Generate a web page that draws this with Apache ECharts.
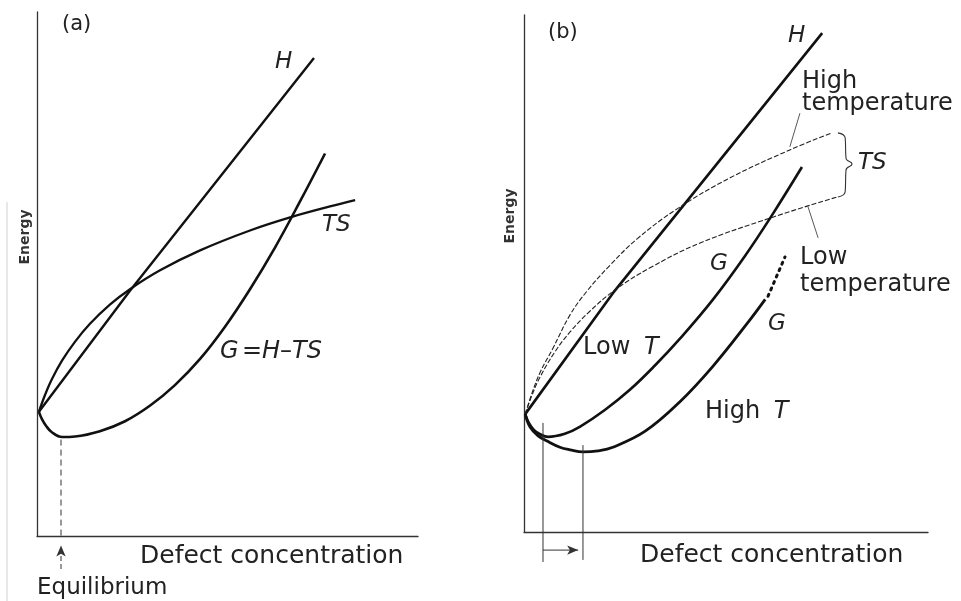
<!DOCTYPE html>
<html>
<head>
<meta charset="utf-8">
<script src="https://cdn.jsdelivr.net/npm/echarts@6/dist/echarts.min.js"></script>
<style>html,body{margin:0;padding:0;background:#fff}#c{width:961px;height:601px}</style>
</head>
<body>
<div id="c"></div>
<script>
// ---------- Panel (a) data (defect concentration, energy), arbitrary units 0-100 ----------
const H_a  = [[0.5,23.7],[24.4,46.8],[72.7,91.2]];
const TS_a = [[0.5,23.7],[2.1,26.9],[3.9,29.9],[6.6,33.5],[10.0,37.1],[13.9,40.5],[19.2,44.2],[24.4,47.1],[32.3,50.7],[42.8,54.5],[55.9,58.3],[66.9,60.9],[76.9,62.9],[83.5,64.1]];
const G_a  = [[0.5,23.7],[1.3,22.3],[2.4,21.0],[3.9,19.8],[6.6,18.9],[10.0,19.0],[16.5,20.0],[23.1,21.9],[29.7,24.9],[36.2,28.8],[42.8,33.8],[49.3,39.9],[55.9,47.1],[62.5,55.1],[69.0,63.8],[75.6,73.0]];
const EQ_a = 6.3;          // equilibrium concentration
const EQ_G_a = 18.4;       // G at equilibrium

// ---------- Panel (b) data ----------
const H_b      = [[0.3,22.8],[22.0,46.2],[73.8,96.5]];
const TS_hi_b  = [[0.3,22.8],[2.0,26.9],[4.0,30.9],[7.2,35.6],[11.4,42.0],[15.6,46.6],[21.3,51.6],[28.0,56.7],[37.9,62.5],[51.0,68.5],[65.8,73.9],[76.2,77.2]];
const TS_lo_b  = [[0.3,22.8],[2.0,26.5],[4.0,30.0],[7.7,34.9],[11.4,38.7],[16.3,42.7],[22.5,46.8],[31.2,51.1],[43.6,55.9],[61.6,60.9],[77.5,64.8]];
const G_lo_b   = [[0.3,22.8],[1.2,21.1],[2.5,19.7],[4.0,18.9],[5.9,18.4],[10.1,19.0],[13.9,20.4],[20.0,23.6],[26.2,27.5],[32.4,32.2],[38.6,37.4],[46.8,45.0],[54.7,53.4],[61.4,61.3],[68.8,70.6]];
const G_hi_b   = [[0.3,22.8],[1.5,20.3],[3.5,18.6],[5.7,17.6],[8.9,16.4],[11.4,15.9],[14.6,15.5],[18.3,15.7],[22.0,16.4],[30.0,19.5],[38.6,25.2],[46.8,32.1],[55.2,40.3],[59.7,45.0]];
const G_dots_b = [[60.4,45.6],[64.6,53.2]];
const EQ_lo_b = 4.7, EQ_hi_b = 14.6;
const BRACE_b = [[77.7,77.2],[79.5,76.2],[79.7,72.3],[81.2,71.2],[79.7,70.0],[79.5,65.8],[77.7,64.8]];
const LEAD_hi_b = [[68.3,81.0],[65.8,74.5]];
const LEAD_lo_b = [[70.3,62.9],[72.8,56.9]];

const chart = echarts.init(document.getElementById('c'), null, {renderer:'canvas'});
const INK = '#111', AX = '#333';
function axisX(i){return {gridIndex:i,type:'value',min:0,max:100,axisLine:{show:true,onZero:false,lineStyle:{color:AX,width:1.3}},axisTick:{show:false},axisLabel:{show:false},splitLine:{show:false}};}
function axisY(i){return {gridIndex:i,type:'value',min:0,max:100,axisLine:{show:true,onZero:false,lineStyle:{color:AX,width:1.3}},axisTick:{show:false},axisLabel:{show:false},splitLine:{show:false}};}
function curve(data,i,w,extra){return Object.assign({type:'line',xAxisIndex:i,yAxisIndex:i,data:data,showSymbol:false,symbol:'none',smooth:0.4,clip:false,silent:true,lineStyle:{color:INK,width:w}},extra||{});}
function arrow(i,p1,p2,rot,dash){return {type:'line',xAxisIndex:i,yAxisIndex:i,clip:false,silent:true,smooth:0,
  symbol:'arrow',showSymbol:true,showAllSymbol:true,symbolSize:[7,11],
  itemStyle:{color:AX},lineStyle:{color:AX,width:1,type:dash||'solid'},
  data:[{value:p1,symbol:'none'},{value:p2,symbol:'arrow',symbolRotate:rot}]};}

const txt = (t,x,y,size,opt)=>({type:'text',x:x,y:y,silent:true,style:Object.assign({text:t,fill:'#222',font:(size)+'px "DejaVu Sans"',textVerticalAlign:'middle',textAlign:'left'},opt||{})});
const ital = s=>'italic '+s+'px "DejaVu Sans"';
const norm = s=>s+'px "DejaVu Sans"';

chart.setOption({
  animation:false,
  backgroundColor:'#fff',
  grid:[{left:37,top:12,width:381,height:524},{left:524,top:15,width:404,height:517}],
  xAxis:[axisX(0),axisX(1)],
  yAxis:[axisY(0),axisY(1)],
  series:[
    curve(H_a,0,2.4,{smooth:0}),
    curve(TS_a,0,2.3),
    curve(G_a,0,2.6),
    curve([[EQ_a,EQ_G_a],[EQ_a,0]],0,1,{smooth:0,lineStyle:{color:AX,width:1,type:[6,4]}}),
    arrow(0,[EQ_a,-6.3],[EQ_a,-1.8],0,[5,3]),
    curve(H_b,1,2.6,{smooth:0}),
    curve(TS_hi_b,1,1.1,{lineStyle:{color:'#222',width:1.1,type:[5,2]}}),
    curve(TS_lo_b,1,1.1,{lineStyle:{color:'#222',width:1.1,type:[5,2]}}),
    curve(G_lo_b,1,2.6),
    curve(G_hi_b,1,2.8),
    curve(G_dots_b,1,3,{smooth:0,lineStyle:{color:INK,width:3,type:[2,5],cap:'round'}}),
    curve([[EQ_lo_b,21.1],[EQ_lo_b,-5.8]],1,1,{smooth:0,lineStyle:{color:AX,width:1}}),
    curve([[EQ_hi_b,16.8],[EQ_hi_b,-5.4]],1,1,{smooth:0,lineStyle:{color:AX,width:1}}),
    arrow(1,[EQ_lo_b,-3.5],[13.4,-3.5],-90),
    curve(BRACE_b,1,1.1,{smooth:0.5,lineStyle:{color:'#333',width:1.1}}),
    curve(LEAD_hi_b,1,1,{smooth:0,lineStyle:{color:'#444',width:0.9}}),
    curve(LEAD_lo_b,1,1,{smooth:0,lineStyle:{color:'#444',width:0.9}})
  ],
  graphic:[
    {type:'line',shape:{x1:7,y1:202,x2:7,y2:601},style:{stroke:'#d0d0d0',lineWidth:1},silent:true},
    // panel a
    txt('(a)',62,25,21),
    txt('H',275,62,23,{font:ital(23)}),
    txt('TS',322,225,23,{font:ital(23)}),
    {type:'text',x:220,y:352,silent:true,style:{text:'{i|G} {n|=}{i|H}{n|–}{i|TS}',textVerticalAlign:'middle',fill:'#222',
      rich:{i:{font:ital(24),fill:'#222'},n:{font:norm(24),fill:'#222'}}}},
    txt('Defect concentration',140,556,25),
    txt('Equilibrium',37,588,23),
    {type:'text',x:25,y:237,rotation:Math.PI/2,silent:true,style:{text:'Energy',fill:'#333',font:'bold 14px "DejaVu Sans"',textAlign:'center',textVerticalAlign:'middle'}},
    // panel b
    txt('(b)',548,33,21),
    txt('H',788,36,23,{font:ital(23)}),
    txt('High',802,82,24),
    txt('temperature',802,104,24),
    txt('TS',858,163,23,{font:ital(23)}),
    txt('Low',800,258,24),
    txt('temperature',800,285,24),
    txt('G',710,264,23,{font:ital(23)}),
    {type:'text',x:583,y:348,silent:true,style:{text:'{n|Low }{i|T}',textVerticalAlign:'middle',rich:{i:{font:ital(24),fill:'#222',padding:[0,0,0,6]},n:{font:norm(24),fill:'#222'}}}},
    txt('G',768,324,23,{font:ital(23)}),
    {type:'text',x:705,y:412,silent:true,style:{text:'{n|High }{i|T}',textVerticalAlign:'middle',rich:{i:{font:ital(24),fill:'#222',padding:[0,0,0,6]},n:{font:norm(24),fill:'#222'}}}},
    txt('Defect concentration',640,555,25),
    {type:'text',x:510,y:216,rotation:Math.PI/2,silent:true,style:{text:'Energy',fill:'#333',font:'bold 14px "DejaVu Sans"',textAlign:'center',textVerticalAlign:'middle'}}
  ]
});
</script>
</body>
</html>
